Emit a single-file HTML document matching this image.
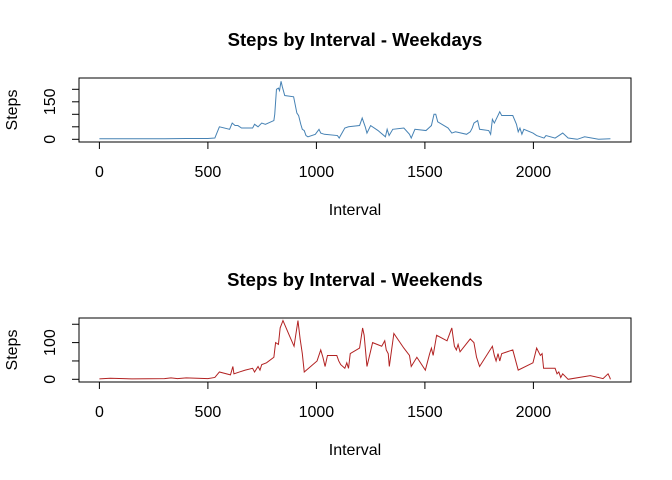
<!DOCTYPE html>
<html><head><meta charset="utf-8"><style>
html,body{margin:0;padding:0;background:#fff;}
svg{display:block;font-family:"Liberation Sans",sans-serif;}
</style></head><body>
<svg id="chart" width="672" height="480" viewBox="0 0 672 480" xmlns="http://www.w3.org/2000/svg"></svg>
<script>
const xTicks=[0,500,1000,1500,2000];
const wdIntervals=[0,100,200,300,400,500,532,553,600,612,625,638,655,672,706,715,731,748,765,804,808,816,825,830,837,843,854,895,910,918,928,935,944,952,961,995,1012,1020,1037,1097,1105,1131,1148,1199,1211,1225,1233,1250,1284,1318,1326,1335,1352,1403,1429,1437,1454,1505,1530,1542,1550,1559,1607,1624,1641,1692,1709,1718,1726,1743,1752,1794,1803,1811,1820,1845,1854,1905,1922,1930,1938,1947,1956,1998,2015,2049,2058,2100,2109,2135,2160,2202,2219,2236,2300,2355];
const wdSteps=[2,2,2,2,3,3,5,50,40,65,55,55,45,45,45,60,50,65,60,75,100,200,205,195,232,210,175,170,105,95,60,40,35,15,10,20,40,25,20,15,5,45,50,55,85,50,25,55,35,10,40,15,40,45,20,5,40,35,55,100,100,70,45,25,30,20,30,45,65,75,40,35,20,80,65,110,95,95,60,30,45,20,40,25,15,5,15,5,10,25,5,0,5,10,0,2,1];
const weIntervals=[0,50,150,300,330,360,400,450,500,532,553,604,615,620,646,672,706,715,731,740,748,770,804,812,825,833,846,875,897,915,925,935,944,1003,1020,1030,1040,1051,1094,1103,1112,1131,1140,1148,1156,1199,1213,1220,1233,1259,1301,1315,1322,1331,1336,1357,1403,1429,1437,1463,1502,1522,1530,1538,1554,1602,1624,1636,1645,1653,1662,1709,1726,1738,1752,1811,1820,1828,1837,1845,1854,1905,1930,1998,2015,2032,2040,2047,2100,2109,2117,2126,2135,2160,2262,2321,2344,2352,2355];
const weSteps=[1,3,1,2,4,2,4,3,2,5,20,12,35,15,20,25,30,20,35,25,40,45,60,100,95,140,160,120,90,160,110,70,20,50,80,60,35,65,65,50,40,30,45,30,70,85,140,120,35,100,90,105,80,70,35,125,85,65,35,60,25,70,85,65,120,105,140,90,80,95,75,110,100,60,35,90,65,50,70,50,70,80,25,45,85,65,70,30,30,15,20,5,15,0,10,2,15,5,0];
const NS="http://www.w3.org/2000/svg";
const svg=document.getElementById('chart');
function mk(tag,attrs,parent){const e=document.createElementNS(NS,tag);for(const k in attrs)e.setAttribute(k,attrs[k]);(parent||svg).appendChild(e);return e;}
const xScale=v=>99.4+v*0.217;
function panel(opt){
  const g=mk('g',{});
  
  
  const yS=v=>opt.y0-v*opt.k;
  const t=mk('text',{x:355,y:opt.titleY,'text-anchor':'middle','font-weight':'bold','font-size':'18.5'},g);
  t.textContent=opt.title;
  
  
  const box=mk('rect',{x:79,y:opt.top,width:552,height:64,fill:'none',stroke:'#000','stroke-width':1},g);
  
  
  let d='';
  opt.xs.forEach((v,i)=>{d+=(i?'L':'M')+xScale(v).toFixed(2)+','+yS(opt.ys[i]).toFixed(2);});
  const line=mk('path',{d:d,fill:'none',stroke:opt.color,'stroke-width':1},g);
  
  
  const bot=opt.top+64;
  mk('line',{x1:xScale(xTicks[0]),x2:xScale(xTicks[xTicks.length-1]),y1:bot,y2:bot,stroke:'#000'},g);
  xTicks.forEach(v=>{
    mk('line',{x1:xScale(v),x2:xScale(v),y1:bot,y2:bot+7,stroke:'#000'},g);
    const tx=mk('text',{x:xScale(v),y:bot+35,'text-anchor':'middle','font-size':'16'},g);
    tx.textContent=v;
    
    
  });
  const yt=opt.yTicks;
  mk('line',{x1:79,x2:79,y1:yS(yt[0]),y2:yS(yt[yt.length-1]),stroke:'#000'},g);
  yt.forEach(v=>{
    mk('line',{x1:72,x2:79,y1:yS(v),y2:yS(v),stroke:'#000'},g);
  });
  opt.yLabels.forEach(v=>{
    const tx=mk('text',{x:0,y:0,'text-anchor':'middle','font-size':'16',transform:`translate(55,${yS(v)}) rotate(-90)`},g);
    tx.textContent=v;
    
    
  });
  const xl=mk('text',{x:355,y:bot+73,'text-anchor':'middle','font-size':'16'},g);
  xl.textContent='Interval';
  
  
  const yl=mk('text',{x:0,y:0,'text-anchor':'middle','font-size':'16',transform:`translate(17,${opt.top+32}) rotate(-90)`},g);
  yl.textContent='Steps';
  
  
}
panel({name:'weekdays-panel',title:'Steps by Interval - Weekdays',titleY:46,top:78,y0:139.3,k:0.25,xs:wdIntervals,ys:wdSteps,color:'#4682b4',yTicks:[0,50,100,150,200],yLabels:[0,150]});
panel({name:'weekends-panel',title:'Steps by Interval - Weekends',titleY:286,top:318,y0:379.3,k:0.367,xs:weIntervals,ys:weSteps,color:'#b22222',yTicks:[0,50,100,150],yLabels:[0,100]});
</script>
</body></html>
